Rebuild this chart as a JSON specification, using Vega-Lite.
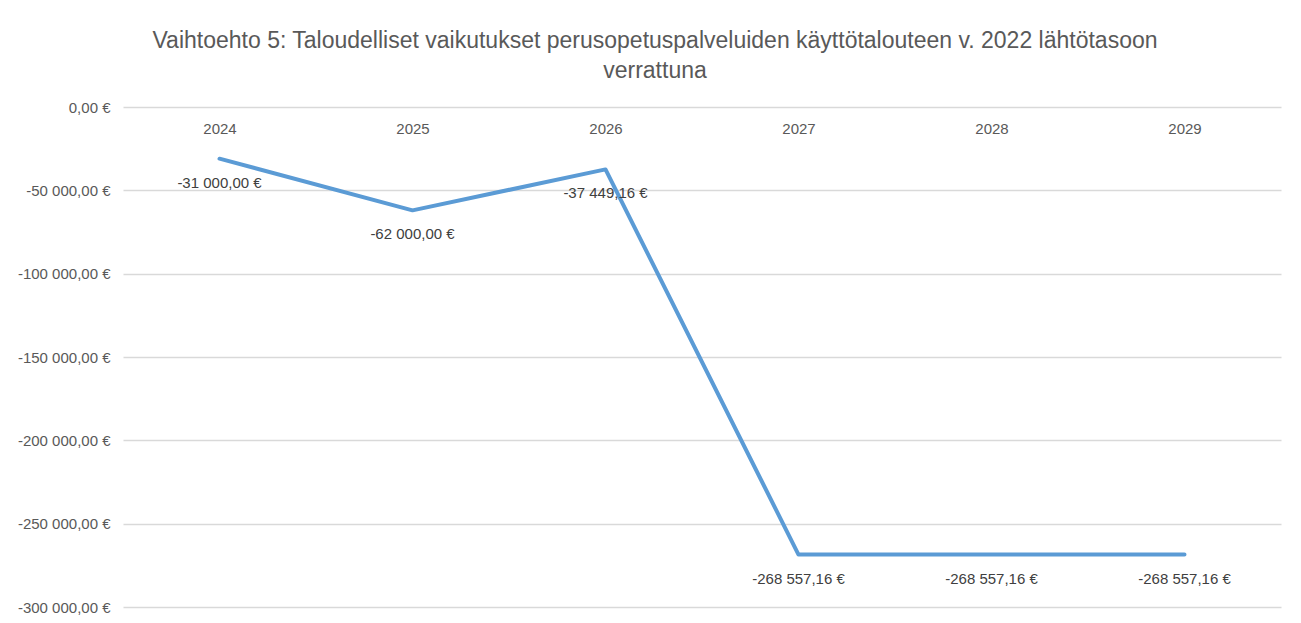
{
  "$schema": "https://vega.github.io/schema/vega-lite/v6.json",
  "width": 1158,
  "height": 500,
  "autosize": {"type": "none"},
  "padding": {"left": 123, "top": 107, "right": 20, "bottom": 16},
  "background": "white",
  "config": {
    "locale": {
      "number": {"decimal": ",", "thousands": " ", "grouping": [3], "currency": ["", " €"], "minus": "-"}
    },
    "view": {"stroke": null},
    "font": "Liberation Sans"
  },
  "title": {
    "text": ["Vaihtoehto 5: Taloudelliset vaikutukset perusopetuspalveluiden  käyttötalouteen v. 2022 lähtötasoon", "verrattuna"],
    "anchor": "middle",
    "frame": "group",
    "dx": -47,
    "fontSize": 23,
    "fontWeight": "normal",
    "color": "#595959",
    "lineHeight": 30,
    "offset": 17
  },
  "data": {
    "values": [
      {"year": "2024", "value": -31000},
      {"year": "2025", "value": -62000},
      {"year": "2026", "value": -37449.16},
      {"year": "2027", "value": -268557.16},
      {"year": "2028", "value": -268557.16},
      {"year": "2029", "value": -268557.16}
    ]
  },
  "encoding": {
    "x": {
      "field": "year",
      "type": "ordinal",
      "scale": {"type": "point", "padding": 0.5},
      "axis": {
        "orient": "top",
        "title": null,
        "domain": false,
        "ticks": false,
        "labelAngle": 0,
        "labelBaseline": "middle",
        "labelPadding": -21,
        "labelFontSize": 15,
        "labelColor": "#595959",
        "grid": false
      }
    },
    "y": {
      "field": "value",
      "type": "quantitative",
      "scale": {"domain": [-300000, 0], "nice": false},
      "axis": {
        "title": null,
        "values": [0, -50000, -100000, -150000, -200000, -250000, -300000],
        "format": "$,.2f",
        "domain": false,
        "ticks": false,
        "labelPadding": 13,
        "labelFontSize": 15,
        "labelColor": "#595959",
        "gridColor": "#d9d9d9",
        "gridWidth": 1.3
      }
    }
  },
  "layer": [
    {
      "mark": {"type": "line", "color": "#5B9BD5", "strokeWidth": 4, "strokeJoin": "round", "strokeCap": "round"}
    },
    {
      "mark": {"type": "text", "dy": 24, "align": "center", "baseline": "middle", "fontSize": 15, "color": "#404040"},
      "encoding": {"text": {"field": "value", "type": "quantitative", "format": "$,.2f"}}
    }
  ]
}
